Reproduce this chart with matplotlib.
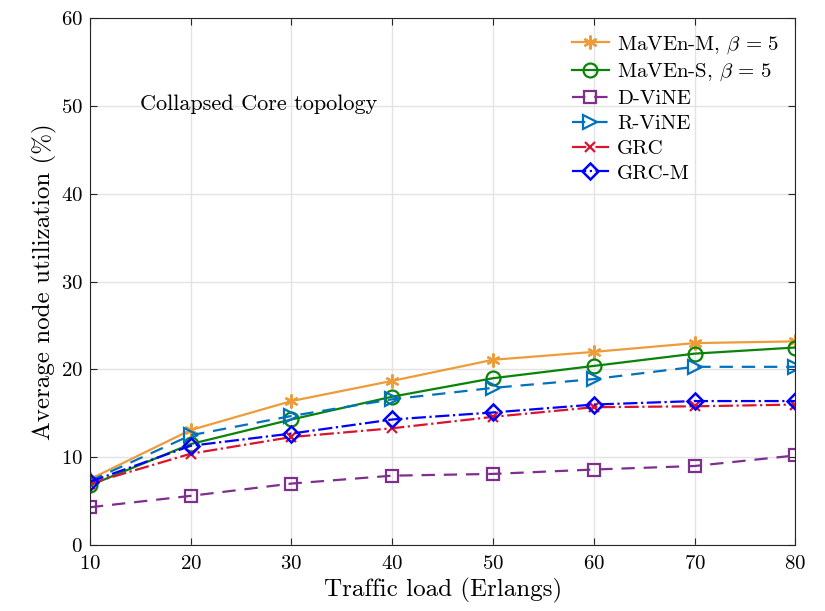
import matplotlib
matplotlib.use('Agg')
import matplotlib.pyplot as plt

plt.rcParams['font.family'] = 'cmr10'
plt.rcParams['mathtext.fontset'] = 'cm'
plt.rcParams['axes.formatter.use_mathtext'] = True

load = [10, 20, 30, 40, 50, 60, 70, 80]
maven_m = [7.5, 13.1, 16.4, 18.7, 21.1, 22.0, 23.0, 23.2]
maven_s = [6.8, 11.5, 14.3, 16.9, 19.0, 20.4, 21.8, 22.5]
d_vine = [4.3, 5.6, 7.0, 7.9, 8.1, 8.6, 9.0, 10.2]
r_vine = [7.3, 12.5, 14.7, 16.6, 17.9, 18.9, 20.3, 20.3]
grc = [7.0, 10.4, 12.3, 13.3, 14.6, 15.7, 15.8, 16.0]
grc_m = [7.2, 11.3, 12.7, 14.3, 15.1, 16.0, 16.4, 16.4]

fig = plt.figure(figsize=(8.25, 6.11), dpi=100)
ax = fig.add_axes([0.109, 0.108, 0.855, 0.862])

mfc = 'none'
ax.plot(load, maven_m, '-', color='#EE9B3A', marker=(6, 2, 0), ms=10, mew=1.6, lw=1.6,
        label=r'MaVEn-M, $\beta\,=\,5$')
ax.plot(load, maven_s, '-', color='#0A830A', marker='o', ms=10, mfc=mfc, mew=1.6, lw=1.6,
        label=r'MaVEn-S, $\beta\,=\,5$')
ax.plot(load, d_vine, '--', color='#7E2F8E', marker='s', ms=8, mfc=mfc, mew=1.6, lw=1.6,
        dashes=(6, 4), label='D-ViNE')
ax.plot(load, r_vine, '--', color='#0072BD', marker='>', ms=10, mfc=mfc, mew=1.6, lw=1.6,
        dashes=(6, 4), label='R-ViNE')
ax.plot(load, grc, '-.', color='#D9142B', marker='x', ms=7, mew=1.6, lw=1.6,
        label='GRC')
ax.plot(load, grc_m, '-.', color='#0000FF', marker='D', ms=8, mfc=mfc, mew=1.8, lw=1.6,
        label='GRC-M')

ax.set_xlim(10, 80)
ax.set_ylim(0, 60)
ax.set_xticks(load)
ax.set_yticks([0, 10, 20, 30, 40, 50, 60])
ax.grid(True, color='#e3e3e3', lw=1)
ax.set_axisbelow(True)
ax.tick_params(direction='in', top=True, right=True, labelsize=15, length=5, color='#262626')
ax.tick_params(axis='x', pad=7)
ax.tick_params(axis='y', pad=5)
for s in ax.spines.values():
    s.set_color('#262626')

ax.set_xlabel('Traffic load (Erlangs)', fontsize=18, labelpad=4)
ax.set_ylabel('Average node utilization (%)', fontsize=18, labelpad=3)
ax.text(15, 50.2, 'Collapsed Core topology', fontsize=16, va='center', ha='left')

ax.legend(loc='upper right', frameon=False, fontsize=15, handlelength=1.8,
          borderaxespad=0.35, labelspacing=0.3, handletextpad=0.4)

fig.savefig('out.png', dpi=100)
